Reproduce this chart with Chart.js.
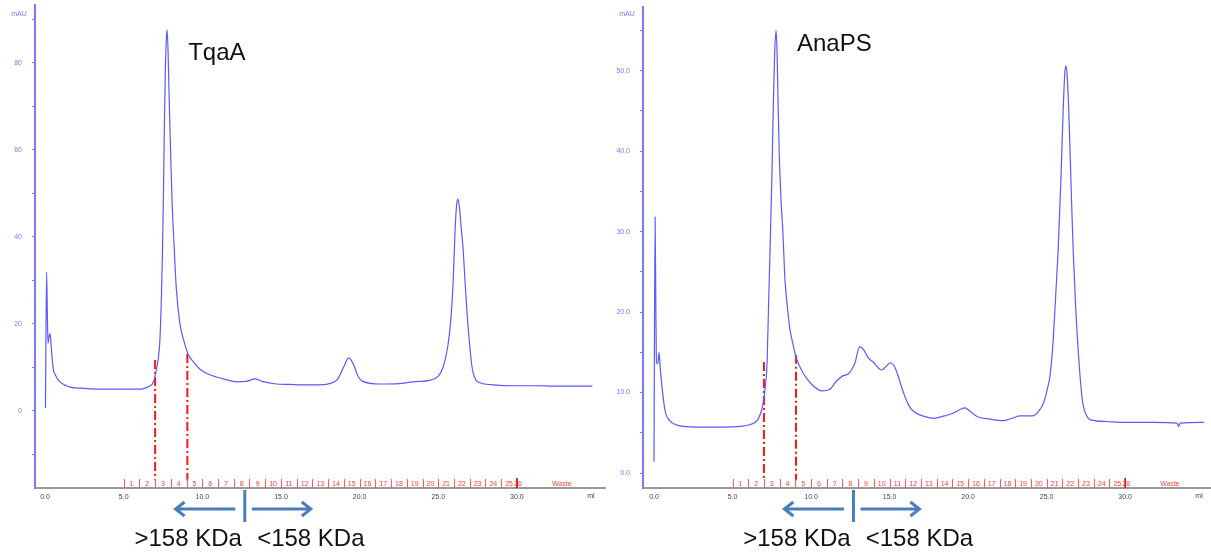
<!DOCTYPE html>
<html>
<head>
<meta charset="utf-8">
<script src="https://cdn.jsdelivr.net/npm/chart.js@4/dist/chart.umd.min.js"></script>
<style>
  html, body { margin: 0; padding: 0; background: #fff; }
  #wrap { position: relative; width: 1211px; height: 552px; overflow: hidden; }
  canvas { position: absolute; top: 0; }
  #tqaChart { left: 0; }
  #anaChart { left: 608px; }
</style>
</head>
<body>
<div id="wrap">
  <canvas id="tqaChart" width="608" height="552"></canvas>
  <canvas id="anaChart" width="603" height="552"></canvas>
</div>
<script>
// TqaA run: elution volume (ml) and absorbance (mAU)
const tqaVolume = [0.03, 0.10, 0.15, 0.19, 0.25, 0.32, 0.38, 0.51, 0.7, 0.95, 1.3, 1.6, 2.5, 4.0, 5.5, 6.2, 6.6, 6.9,
  7.05, 7.2, 7.3, 7.4, 7.47, 7.53, 7.6, 7.66, 7.72, 7.76, 7.82, 7.88, 7.98, 8.08, 8.18, 8.35, 8.58, 8.8, 9.09, 9.5,
  9.85, 10.3, 10.9, 11.5, 12.2, 12.8, 13.35, 13.8, 14.7, 15.5, 16.5, 17.5, 18.2, 18.6, 19.0, 19.3, 19.6, 19.9, 20.2,
  21.3, 22.5, 23.4, 24.5, 25.0, 25.3, 25.6, 25.8, 25.95, 26.07, 26.17, 26.25, 26.34, 26.45, 26.57, 26.7, 26.83, 27.0,
  27.15, 27.3, 27.5, 28.5, 29.7, 31.0, 32.5, 34.8];
const tqaAbs = [0.7, 32.0, 22.0, 15.6, 17.0, 17.8, 15.5, 10.0, 8.0, 6.7, 5.9, 5.5, 5.2, 5.0, 5.0, 5.1, 5.6, 6.7,
  9.0, 12.0, 16.0, 26.0, 37.0, 50.0, 68.0, 80.0, 86.0, 87.6, 83.0, 74.0, 60.0, 48.0, 40.0, 28.0, 20.0, 16.5, 13.1, 11.0,
  9.6, 8.6, 7.8, 7.2, 6.7, 6.8, 7.4, 6.8, 6.2, 6.1, 6.0, 6.0, 6.4, 7.3, 10.2, 12.2, 10.8, 8.0, 6.8,
  6.2, 6.3, 6.7, 7.1, 8.0, 10.0, 14.7, 21.0, 30.0, 41.6, 47.5, 48.7, 47.0, 42.5, 37.7, 30.0, 22.5, 15.0,
  10.0, 7.8, 6.7, 6.0, 5.8, 5.8, 5.7, 5.7];

// AnaPS run
const anaVolume = [0.0, 0.07, 0.12, 0.16, 0.25, 0.32, 0.4, 0.51, 0.7, 1.0, 1.4, 1.85, 3.0, 4.5, 5.5, 6.1, 6.6, 6.85,
  6.95, 7.1, 7.2, 7.3, 7.42, 7.52, 7.6, 7.68, 7.77, 7.84, 7.9, 7.97, 8.09, 8.2, 8.34, 8.5, 8.66, 8.85, 9.04, 9.5,
  10.1, 10.7, 11.2, 11.65, 12.05, 12.36, 12.6, 12.8, 13.1, 13.35, 13.65, 13.95, 14.5, 14.8, 15.05, 15.3, 15.55, 15.9,
  16.2, 16.5, 17.1, 17.8, 18.5, 19.0, 19.5, 19.8, 20.1, 20.6, 21.4, 22.2, 22.8, 23.3, 24.1, 24.5, 24.8, 25.05, 25.2,
  25.38, 25.5, 25.63, 25.73, 25.9, 26.05, 26.15, 26.22, 26.3, 26.4, 26.55, 26.69, 26.85, 27.0, 27.15, 27.3, 27.5,
  27.8, 28.8, 29.7, 31.8, 33.3, 33.4, 33.5, 35.0];
const anaAbs = [1.4, 31.8, 20.0, 13.7, 13.6, 15.0, 13.0, 10.7, 7.8, 6.5, 6.0, 5.8, 5.7, 5.7, 5.8, 6.0, 6.6, 7.8,
  8.7, 11.0, 13.7, 21.3, 30.0, 38.0, 46.0, 52.0, 55.0, 52.0, 46.0, 40.0, 33.9, 30.2, 24.0, 20.5, 17.8, 16.0, 14.4, 12.4,
  10.9, 10.2, 10.4, 11.5, 12.1, 12.3, 12.9, 13.7, 15.7, 15.3, 14.3, 13.8, 12.8, 13.3, 13.7, 13.3, 12.0, 9.9,
  8.5, 7.7, 7.1, 6.8, 7.1, 7.4, 7.9, 8.1, 7.7, 7.0, 6.7, 6.5, 6.8, 7.1, 7.1, 7.7, 8.7, 10.5, 11.9,
  15.5, 19.4, 24.0, 27.6, 36.0, 45.0, 49.5, 50.6, 49.5, 45.5, 36.0, 27.6, 20.5, 15.5, 11.5, 8.7, 7.3,
  6.6, 6.4, 6.3, 6.3, 6.2, 5.8, 6.2, 6.3];

// pooled fraction cuts: position (ml), top and bottom of the marker (mAU)
const tqaCutMl = [7.0, 9.05];
const tqaCutTop = [11.7, 13.1];
const tqaCutBottom = [-15.9, -15.9];
const anaCutMl = [7.0, 9.04];
const anaCutTop = [13.8, 14.7];
const anaCutBottom = [-0.9, -0.9];

// fraction collector: edges (ml) and tube numbers
const fractionEdges = [5, 6, 7, 8, 9, 10, 11, 12, 13, 14, 15, 16, 17, 18, 19, 20, 21, 22, 23, 24, 25, 26, 27, 28, 29, 30];
const fractionNames = ['1', '2', '3', '4', '5', '6', '7', '8', '9', '10', '11', '12', '13', '14', '15', '16', '17',
  '18', '19', '20', '21', '22', '23', '24', '25'];
const lastTube = { name: '26', ml: 30.0 };
const wasteMark = { name: 'Waste', ml: 32.85 };

// size split between the two pools
const splitMl = 12.7;
const splitLabels = ['>158 KDa', '<158 KDa'];
const splitLabelMl = [9.1, 16.9];

const BLUE = 'rgb(90, 90, 255)';
const AXIS_BLUE = 'rgb(120, 120, 255)';
const FONT = '"Liberation Sans", Arial, sans-serif';

function toPoints(xs, ys) {
  return xs.map((x, i) => ({ x: x, y: ys[i] }));
}

function cutDatasets(ml, top, bottom) {
  return ml.map((m, i) => ({
    data: [{ x: m, y: top[i] }, { x: m, y: bottom[i] }],
    borderColor: 'rgb(255, 20, 20)',
    borderWidth: 2,
    borderDash: [9, 3, 2, 3],
    pointRadius: 0,
    tension: 0
  }));
}

function arrow(ctx, x1, x2, y) {
  const dir = x2 > x1 ? 1 : -1;
  ctx.beginPath();
  ctx.moveTo(x1, y);
  ctx.lineTo(x2, y);
  ctx.moveTo(x2 - dir * 9, y - 7);
  ctx.lineTo(x2, y);
  ctx.lineTo(x2 - dir * 9, y + 7);
  ctx.stroke();
}

// fraction ticks, axis captions, sample name and the size split arrows
function overlay(name, nameMl, nameBaseline) {
  return {
    id: 'overlay',
    afterDraw(chart) {
      const ctx = chart.ctx;
      const xs = chart.scales.x;
      const area = chart.chartArea;
      const base = area.bottom;
      ctx.save();

      // fraction collector marks
      ctx.strokeStyle = 'rgb(255, 90, 90)';
      ctx.lineWidth = 1;
      fractionEdges.forEach(ml => {
        const px = Math.round(xs.getPixelForValue(ml)) + 0.5;
        ctx.beginPath();
        ctx.moveTo(px, base - 9);
        ctx.lineTo(px, base);
        ctx.stroke();
      });
      ctx.strokeStyle = 'rgb(200, 0, 0)';
      ctx.lineWidth = 1.5;
      const lastPx = xs.getPixelForValue(fractionEdges[fractionEdges.length - 1]);
      ctx.beginPath();
      ctx.moveTo(lastPx, base - 10);
      ctx.lineTo(lastPx, base);
      ctx.stroke();

      ctx.fillStyle = 'rgb(255, 60, 60)';
      ctx.font = '7px ' + FONT;
      ctx.textAlign = 'center';
      ctx.textBaseline = 'middle';
      fractionNames.forEach((n, i) => {
        const mid = (fractionEdges[i] + fractionEdges[i + 1]) / 2;
        ctx.fillText(n, xs.getPixelForValue(mid), base - 4);
      });
      ctx.fillText(lastTube.name, xs.getPixelForValue(lastTube.ml) + 1, base - 4);
      ctx.fillText(wasteMark.name, xs.getPixelForValue(wasteMark.ml), base - 4);

      // axis captions
      ctx.fillStyle = '#444';
      ctx.fillText('ml', xs.getPixelForValue(34.7), base + 8);
      ctx.fillStyle = AXIS_BLUE;
      ctx.fillText('mAU', area.left - 16, 14);

      // sample name
      ctx.fillStyle = '#111';
      ctx.font = '24px ' + FONT;
      ctx.textAlign = 'left';
      ctx.textBaseline = 'alphabetic';
      ctx.fillText(name, xs.getPixelForValue(nameMl), nameBaseline);

      // size split
      const sx = xs.getPixelForValue(splitMl);
      ctx.strokeStyle = 'rgb(74, 126, 187)';
      ctx.lineWidth = 3;
      ctx.beginPath();
      ctx.moveTo(sx, base + 2);
      ctx.lineTo(sx, base + 34);
      ctx.stroke();
      arrow(ctx, xs.getPixelForValue(12.1), xs.getPixelForValue(8.3), base + 21);
      arrow(ctx, xs.getPixelForValue(13.15), xs.getPixelForValue(16.9), base + 21);

      ctx.fillStyle = '#111';
      ctx.textAlign = 'center';
      splitLabels.forEach((t, i) => {
        ctx.fillText(t, xs.getPixelForValue(splitLabelMl[i]), base + 58);
      });
      ctx.restore();
    }
  };
}

function makeChart(canvasId, cfg) {
  const ctx = document.getElementById(canvasId).getContext('2d');
  return new Chart(ctx, {
    type: 'line',
    data: {
      datasets: [{
        data: toPoints(cfg.volume, cfg.abs),
        borderColor: BLUE,
        borderWidth: 1.2,
        pointRadius: 0,
        cubicInterpolationMode: 'monotone'
      }].concat(cutDatasets(cfg.cutMl, cfg.cutTop, cfg.cutBottom))
    },
    options: {
      responsive: false,
      animation: false,
      layout: { padding: { top: cfg.top, right: cfg.right, left: 0, bottom: 0 } },
      plugins: {
        legend: { display: false },
        tooltip: { enabled: false }
      },
      scales: {
        x: {
          type: 'linear',
          min: cfg.xMin,
          max: cfg.xMax,
          afterFit: s => { s.height = 64; s.paddingLeft = 0; s.paddingRight = 0; },
          border: { color: '#999', width: 2 },
          grid: { drawOnChartArea: false, drawTicks: false },
          ticks: {
            stepSize: 5,
            includeBounds: false,
            autoSkip: false,
            maxRotation: 0,
            padding: 5,
            color: '#444',
            font: { size: 7, family: FONT },
            callback: v => (v >= 0 && v <= 30) ? v.toFixed(1) : ''
          }
        },
        y: {
          min: cfg.yMin,
          max: cfg.yMax,
          afterFit: s => { s.width = 35; s.paddingTop = 0; s.paddingBottom = 0; },
          border: { color: AXIS_BLUE, width: 2 },
          grid: { drawOnChartArea: false, tickLength: 3, color: AXIS_BLUE },
          ticks: {
            stepSize: cfg.yStep,
            includeBounds: false,
            autoSkip: false,
            padding: 10,
            color: AXIS_BLUE,
            font: { size: 7, family: FONT },
            callback: cfg.yLabel
          }
        }
      }
    },
    plugins: [overlay(cfg.name, cfg.nameMl, cfg.nameBaseline)]
  });
}

makeChart('tqaChart', {
  volume: tqaVolume, abs: tqaAbs,
  cutMl: tqaCutMl, cutTop: tqaCutTop, cutBottom: tqaCutBottom,
  top: 5, right: 3,
  xMin: -0.636, xMax: 35.6,
  yMin: -17.7, yMax: 93.3, yStep: 10,
  yLabel: v => (v % 20 === 0 && v >= 0) ? String(v) : '',
  name: 'TqaA', nameMl: 9.1, nameBaseline: 60
});

makeChart('anaChart', {
  volume: anaVolume, abs: anaAbs,
  cutMl: anaCutMl, cutTop: anaCutTop, cutBottom: anaCutBottom,
  top: 7, right: 1,
  xMin: -0.70, xMax: 35.4,
  yMin: -1.86, yMax: 57.9, yStep: 5,
  yLabel: v => (v % 10 === 0 && v >= 0) ? v.toFixed(1) : '',
  name: 'AnaPS', nameMl: 9.1, nameBaseline: 51
});
</script>
</body>
</html>
